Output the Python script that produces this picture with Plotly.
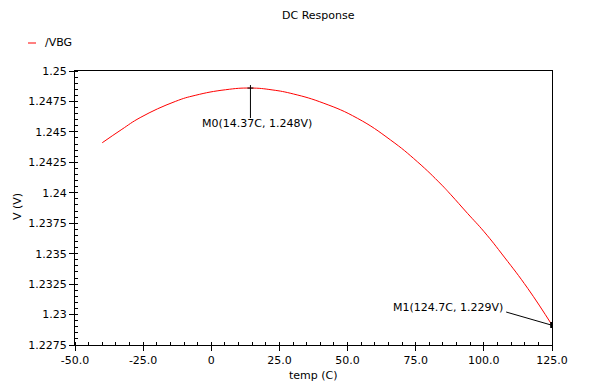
import plotly.graph_objects as go

# ---- data ----
temp = [-40, -32.8, -26.1, -13.2, -5.9, 5.2, 14.4, 22.3, 30.2, 41.3, 53.6,
        65.8, 75.6, 84.2, 87.9, 94.0, 100.1, 107.5, 116.1, 125]
vbg = [1.24411, 1.24521, 1.24617, 1.24750, 1.24800, 1.24846, 1.24860, 1.24845,
       1.24811, 1.24735, 1.24612, 1.24433, 1.24255, 1.24072, 1.23984, 1.23831,
       1.23680, 1.23472, 1.23215, 1.22914]

x_ticks = [-50, -25, 0, 25, 50, 75, 100, 125]
x_tick_labels = ["-50.0", "-25.0", "0", "25.0", "50.0", "75.0", "100.0", "125.0"]
y_ticks = [1.2275, 1.23, 1.2325, 1.235, 1.2375, 1.24, 1.2425, 1.245, 1.2475, 1.25]
y_tick_labels = ["1.2275", "1.23", "1.2325", "1.235", "1.2375", "1.24",
                 "1.2425", "1.245", "1.2475", "1.25"]

marker_temp = [14.37, 124.7]
marker_volt = [1.24860, 1.22914]
marker_labels = ["M0(14.37C, 1.248V)", "M1(124.7C, 1.229V)"]

series_name = "/VBG"
title_text = "DC Response"
x_title = "temp (C)"
y_title = "V (V)"

# ---- layout geometry (page pixels; the page body adds an 8px offset) ----
OFF = 8
PAGE_W, PAGE_H = 591, 389
W, H = PAGE_W - OFF, PAGE_H - OFF
PL, PR, PT, PB = 75, 552, 71, 345          # plot area edges in page pixels
L, T = PL - OFF, PT - OFF
R = W - (PR - OFF)
B = H - (PB - OFF)
PW, PH = PR - PL, PB - PT


def px(xp):
    return (xp - PL) / PW


def py(yp):
    return (PB - yp) / PH


FONT = "DejaVu Sans"

fig = go.Figure()
fig.add_trace(go.Scatter(x=temp, y=vbg, mode="lines", name=series_name,
                         line=dict(color="#ff0000", width=1, shape="spline", smoothing=1.3),
                         showlegend=False, hoverinfo="skip"))

axis_common = dict(showgrid=False, zeroline=False, showline=True, linecolor="black",
                   linewidth=1, mirror=True, ticks="outside", ticklen=5, tickwidth=1,
                   tickcolor="black", tickfont=dict(family=FONT, size=11, color="black"))

fig.update_xaxes(range=[-50, 125], tickvals=x_ticks, ticktext=x_tick_labels,
                 minor=dict(dtick=5, tick0=0, ticks="inside", ticklen=3, tickcolor="black"),
                 **axis_common)
fig.update_yaxes(range=[1.2275, 1.25], tickvals=y_ticks, ticktext=y_tick_labels,
                 minor=dict(dtick=0.0005, tick0=1.2275, ticks="inside", ticklen=3,
                            tickcolor="black"),
                 **axis_common)

shapes = []
# legend line
shapes.append(dict(type="line", xref="paper", yref="paper", x0=px(28), x1=px(36),
                   y0=py(43), y1=py(43), line=dict(color="#ff0000", width=1)))
# M0 marker: vertical leader + crosshair
shapes.append(dict(type="line", xref="x", yref="y", xsizemode="scaled",
                   ysizemode="pixel", yanchor=marker_volt[0],
                   x0=marker_temp[0], x1=marker_temp[0], y0=3, y1=-30,
                   line=dict(color="black", width=1)))
shapes.append(dict(type="line", xref="x", yref="y", xsizemode="pixel",
                   xanchor=marker_temp[0], ysizemode="pixel", yanchor=marker_volt[0],
                   x0=-3, x1=3, y0=0, y1=0, line=dict(color="black", width=1)))
# M1 marker: slanted leader + crosshair
shapes.append(dict(type="line", xref="x", yref="y", xsizemode="pixel",
                   xanchor=marker_temp[1], ysizemode="pixel", yanchor=marker_volt[1],
                   x0=-45, y0=13, x1=0, y1=0, line=dict(color="black", width=1)))
shapes.append(dict(type="line", xref="x", yref="y", xsizemode="pixel",
                   xanchor=marker_temp[1], ysizemode="pixel", yanchor=marker_volt[1],
                   x0=0, x1=0, y0=3, y1=-3, line=dict(color="black", width=2)))

annotations = [
    dict(text=title_text, xref="paper", yref="paper", x=px(318), y=py(15),
         showarrow=False, xanchor="center", yanchor="middle",
         font=dict(family=FONT, size=11, color="black")),
    dict(text=series_name, xref="paper", yref="paper", x=px(43), y=py(43),
         showarrow=False, xanchor="left", yanchor="middle",
         font=dict(family=FONT, size=11, color="black")),
    dict(text=y_title, xref="paper", yref="paper", x=px(17), y=py(207),
         showarrow=False, xanchor="center", yanchor="middle", textangle=-90,
         font=dict(family=FONT, size=11, color="black")),
    dict(text=x_title, xref="paper", yref="paper", x=px(313), y=py(375),
         showarrow=False, xanchor="center", yanchor="middle",
         font=dict(family=FONT, size=11, color="black")),
    dict(text=marker_labels[0], xref="x", yref="y", x=marker_temp[0], y=marker_volt[0],
         xshift=-50, yshift=-35, showarrow=False, xanchor="left", yanchor="middle",
         font=dict(family=FONT, size=11, color="black")),
    dict(text=marker_labels[1], xref="x", yref="y", x=marker_temp[1], y=marker_volt[1],
         xshift=-46, yshift=18, showarrow=False, xanchor="right", yanchor="middle",
         font=dict(family=FONT, size=11, color="black")),
]

fig.update_layout(width=W, height=H, margin=dict(l=L, r=R, t=T, b=B, pad=0),
                  paper_bgcolor="white", plot_bgcolor="white",
                  shapes=shapes, annotations=annotations, showlegend=False)

fig.write_html("out.html")
